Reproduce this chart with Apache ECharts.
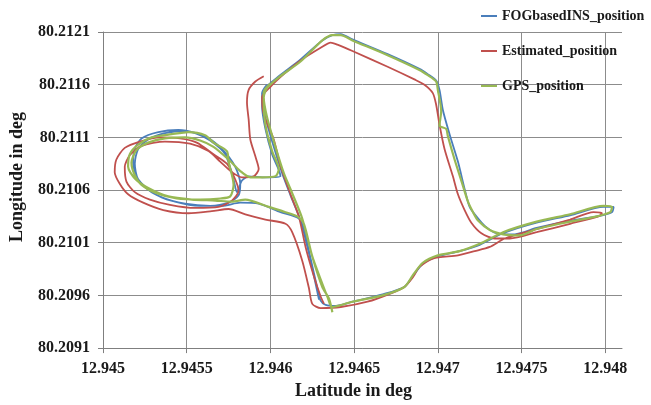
<!DOCTYPE html>
<html>
<head>
<meta charset="utf-8">
<script src="https://cdn.jsdelivr.net/npm/echarts@6/dist/echarts.min.js"></script>
<style>
html, body { margin: 0; padding: 0; background: #fff; }
#chart { width: 651px; height: 405px; }
</style>
</head>
<body>
<div id="chart"></div>
<script>
// tick values on both axes
const xTicks = [12.945, 12.9455, 12.946, 12.9465, 12.947, 12.9475, 12.948];
const yTicks = [80.2091, 80.2096, 80.2101, 80.2106, 80.2111, 80.2116, 80.2121];
const seriesNames = ['FOGbasedINS_position', 'Estimated_position', 'GPS_position'];

// [latitude, longitude]
const insPath = [
  [12.94598,80.21160],[12.94595,80.21152],[12.94595,80.21140],[12.94597,80.21118],[12.94601,80.21094],
  [12.94605,80.21079],[12.94606,80.21073],[12.94597,80.21072],[12.94587,80.21073],[12.94583,80.21069],
  [12.94580,80.21058],[12.94578,80.21070],[12.94573,80.21094],[12.94564,80.21107],[12.94555,80.21114],
  [12.94545,80.21117],[12.94533,80.21115],[12.94523,80.21109],[12.94519,80.21099],[12.94518,80.21086],
  [12.94520,80.21073],[12.94526,80.21062],[12.94535,80.21053],[12.94549,80.21047],[12.94564,80.21045],
  [12.94575,80.21048],[12.94581,80.21055],[12.94582,80.21066],[12.94579,80.21082],[12.94571,80.21099],
  [12.94561,80.21111],[12.94549,80.21116],[12.94537,80.21114],[12.94527,80.21108],[12.94521,80.21099],
  [12.94519,80.21085],[12.94521,80.21070],[12.94529,80.21058],[12.94543,80.21049],[12.94558,80.21045],
  [12.94571,80.21045],[12.94582,80.21048],[12.94593,80.21047],[12.94606,80.21039],[12.94617,80.21033],
  [12.94620,80.21023],[12.94624,80.20995],[12.94628,80.20967],[12.94630,80.20955],[12.94633,80.20951],
  [12.94639,80.20950],[12.94649,80.20954],[12.94667,80.20961],[12.94680,80.20968],[12.94685,80.20978],
  [12.94691,80.20990],[12.94700,80.20997],[12.94713,80.21002],[12.94725,80.21008],[12.94739,80.21019],
  [12.94759,80.21029],[12.94779,80.21036],[12.94799,80.21044],[12.94805,80.21044],[12.94804,80.21039],
  [12.94795,80.21035],[12.94779,80.21031],[12.94759,80.21024],[12.94746,80.21018],[12.94735,80.21019],
  [12.94728,80.21026],[12.94723,80.21035],[12.94719,80.21044],[12.94716,80.21061],[12.94712,80.21087],
  [12.94707,80.21113],[12.94703,80.21136],[12.94701,80.21155],[12.94699,80.21164],[12.94694,80.21170],
  [12.94689,80.21175],[12.94670,80.21189],[12.94649,80.21203],[12.94642,80.21208],[12.94637,80.21207],
  [12.94631,80.21202],[12.94618,80.21184],[12.94605,80.21168],[12.94597,80.21157],[12.94595,80.21148],
  [12.94597,80.21129],[12.94602,80.21101],[12.94607,80.21076],[12.94612,80.21055],[12.94618,80.21031],
  [12.94623,80.21000],[12.94627,80.20971],[12.94629,80.20956]
];

const estPath = [
  [12.94596,80.21168],[12.94591,80.21163],[12.94587,80.21155],[12.94586,80.21143],[12.94587,80.21127],
  [12.94588,80.21108],[12.94591,80.21092],[12.94593,80.21080],[12.94590,80.21073],[12.94583,80.21072],
  [12.94577,80.21077],[12.94570,80.21087],[12.94563,80.21097],[12.94552,80.21104],[12.94537,80.21106],
  [12.94523,80.21102],[12.94516,80.21093],[12.94513,80.21082],[12.94514,80.21068],[12.94519,80.21058],
  [12.94528,80.21051],[12.94540,80.21046],[12.94555,80.21043],[12.94569,80.21044],[12.94577,80.21050],
  [12.94581,80.21059],[12.94579,80.21070],[12.94574,80.21085],[12.94566,80.21094],[12.94556,80.21105],
  [12.94546,80.21109],[12.94534,80.21110],[12.94522,80.21106],[12.94513,80.21100],[12.94508,80.21089],
  [12.94507,80.21077],[12.94510,80.21066],[12.94515,80.21056],[12.94524,80.21048],[12.94536,80.21041],
  [12.94551,80.21038],[12.94565,80.21040],[12.94575,80.21042],[12.94585,80.21037],[12.94597,80.21032],
  [12.94609,80.21028],[12.94613,80.21020],[12.94619,80.20993],[12.94623,80.20967],[12.94625,80.20952],
  [12.94630,80.20948],[12.94642,80.20949],[12.94658,80.20954],[12.94672,80.20962],[12.94680,80.20968],
  [12.94685,80.20977],[12.94689,80.20987],[12.94697,80.20995],[12.94712,80.20998],[12.94722,80.21002],
  [12.94731,80.21006],[12.94740,80.21014],[12.94759,80.21023],[12.94779,80.21032],[12.94793,80.21039],
  [12.94798,80.21038],[12.94796,80.21035],[12.94779,80.21028],[12.94759,80.21020],[12.94743,80.21014],
  [12.94734,80.21014],[12.94726,80.21019],[12.94720,80.21029],[12.94716,80.21041],[12.94712,80.21056],
  [12.94709,80.21073],[12.94704,80.21099],[12.94701,80.21122],[12.94699,80.21141],[12.94697,80.21152],
  [12.94692,80.21160],[12.94686,80.21165],[12.94670,80.21177],[12.94649,80.21192],[12.94640,80.21198],
  [12.94636,80.21200],[12.94630,80.21195],[12.94618,80.21183],[12.94608,80.21170],[12.94600,80.21158],
  [12.94595,80.21148],[12.94596,80.21132],[12.94602,80.21108],[12.94606,80.21083],[12.94612,80.21056],
  [12.94617,80.21035],[12.94621,80.21006],[12.94626,80.20978],[12.94630,80.20959],[12.94632,80.20952]
];

const gpsPath = [
  [12.94600,80.21161],[12.94596,80.21153],[12.94596,80.21144],[12.94597,80.21122],[12.94601,80.21097],
  [12.94605,80.21080],[12.94603,80.21073],[12.94595,80.21072],[12.94588,80.21072],[12.94582,80.21078],
  [12.94575,80.21089],[12.94566,80.21101],[12.94558,80.21107],[12.94549,80.21110],[12.94537,80.21109],
  [12.94527,80.21105],[12.94520,80.21098],[12.94517,80.21086],[12.94519,80.21074],[12.94523,80.21065],
  [12.94532,80.21057],[12.94544,80.21052],[12.94558,80.21051],[12.94570,80.21052],[12.94576,80.21054],
  [12.94578,80.21065],[12.94575,80.21087],[12.94574,80.21097],[12.94566,80.21105],[12.94561,80.21112],
  [12.94551,80.21115],[12.94541,80.21113],[12.94529,80.21110],[12.94521,80.21103],[12.94516,80.21094],
  [12.94515,80.21082],[12.94519,80.21071],[12.94527,80.21062],[12.94539,80.21054],[12.94553,80.21051],
  [12.94567,80.21050],[12.94577,80.21049],[12.94585,80.21051],[12.94599,80.21044],[12.94609,80.21039],
  [12.94616,80.21035],[12.94620,80.21028],[12.94625,80.20997],[12.94631,80.20971],[12.94634,80.20959],
  [12.94637,80.20949],[12.94649,80.20954],[12.94667,80.20960],[12.94680,80.20968],[12.94685,80.20979],
  [12.94691,80.20991],[12.94700,80.20998],[12.94713,80.21002],[12.94725,80.21009],[12.94739,80.21020],
  [12.94759,80.21030],[12.94779,80.21037],[12.94799,80.21045],[12.94804,80.21044],[12.94803,80.21039],
  [12.94795,80.21035],[12.94779,80.21030],[12.94759,80.21023],[12.94749,80.21017],[12.94739,80.21018],
  [12.94731,80.21022],[12.94724,80.21031],[12.94721,80.21039],[12.94718,80.21049],[12.94715,80.21064],
  [12.94710,80.21089],[12.94706,80.21111],[12.94705,80.21118],[12.94701,80.21121],[12.94702,80.21135],
  [12.94700,80.21155],[12.94699,80.21163],[12.94694,80.21169],[12.94689,80.21174],[12.94670,80.21188],
  [12.94649,80.21202],[12.94642,80.21207],[12.94637,80.21207],[12.94631,80.21202],[12.94618,80.21182],
  [12.94605,80.21167],[12.94598,80.21157],[12.94596,80.21148],[12.94598,80.21129],[12.94603,80.21101],
  [12.94608,80.21076],[12.94613,80.21057],[12.94619,80.21033],[12.94625,80.20997],[12.94631,80.20968],
  [12.94635,80.20957],[12.94637,80.20944]
];

const colors = ['#4a7ebb', '#c0504d', '#98b954'];
const font = '"Liberation Serif", "Times New Roman", serif';

let myChart = echarts.init(document.getElementById('chart'));

const labelStyle = {
  fontFamily: font,
  fontWeight: 'bold',
  fontSize: 16,
  color: '#1a1a1a'
};

let option = {
  animation: false,
  backgroundColor: '#fff',
  grid: { left: 103, top: 32, width: 519, height: 318, containLabel: false },
  legend: {
    orient: 'vertical',
    left: 476,
    top: 3,
    itemGap: 19,
    itemWidth: 16,
    itemHeight: 2,
    icon: 'rect',
    data: seriesNames,
    textStyle: { fontFamily: font, fontWeight: 'bold', fontSize: 14, color: '#1a1a1a', lineHeight: 16 }
  },
  xAxis: {
    type: 'value',
    min: 12.945,
    max: 12.9481,
    name: 'Latitude in deg',
    nameLocation: 'middle',
    nameGap: 33,
    nameTextStyle: { fontFamily: font, fontWeight: 'bold', fontSize: 18, color: '#1a1a1a', padding: [0, 18, 0, 0] },
    axisLine: { show: true, onZero: false, lineStyle: { color: '#7f7f7f', width: 1 } },
    axisTick: { show: true, length: 5, customValues: xTicks, lineStyle: { color: '#7f7f7f' } },
    axisLabel: Object.assign({ customValues: xTicks, margin: 13, formatter: v => String(+v.toFixed(4)) }, labelStyle),
    splitLine: { show: true, lineStyle: { color: '#8c8c8c', width: 1 } }
  },
  yAxis: {
    type: 'value',
    min: 80.2091,
    max: 80.2121,
    name: 'Longitude in deg',
    nameLocation: 'middle',
    nameRotate: 90,
    nameGap: 77,
    nameTextStyle: { fontFamily: font, fontWeight: 'bold', fontSize: 18, color: '#1a1a1a', padding: [0, 0, 0, 26] },
    axisLine: { show: true, onZero: false, lineStyle: { color: '#7f7f7f', width: 1 } },
    axisTick: { show: true, length: 5, customValues: yTicks, lineStyle: { color: '#7f7f7f' } },
    axisLabel: Object.assign({ customValues: yTicks, margin: 13, formatter: v => v.toFixed(4) }, labelStyle),
    splitLine: { show: true, lineStyle: { color: '#8c8c8c', width: 1 } }
  },
  series: [insPath, estPath, gpsPath].map((path, i) => ({
    name: seriesNames[i],
    type: 'line',
    data: path,
    symbol: 'none',
    smooth: 0.25,
    color: colors[i],
    lineStyle: { color: colors[i], width: i === 2 ? 2.2 : 1.8 }
  }))
};

myChart.setOption(option);
</script>
</body>
</html>
